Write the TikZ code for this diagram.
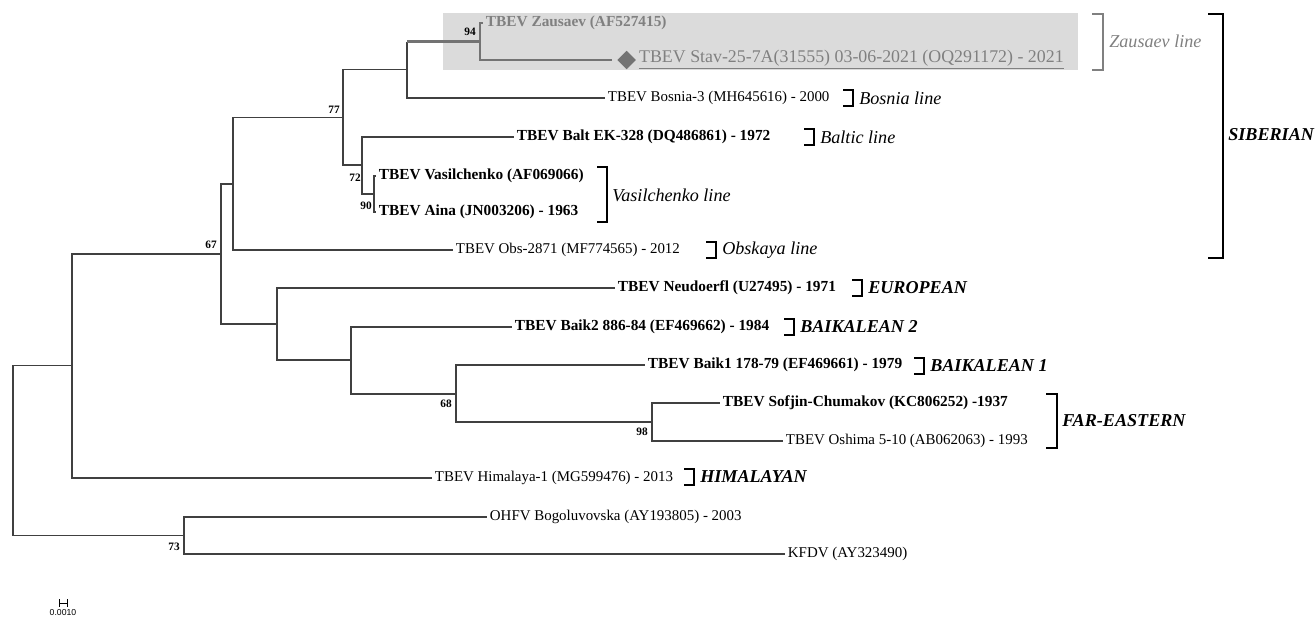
\documentclass[tikz,border=0pt]{standalone}
\usepackage{fontspec}
\setmainfont{Liberation Serif}
\setsansfont{Liberation Sans}
\usetikzlibrary{positioning, shapes.geometric}

\begin{document}
\begin{tikzpicture}[x=0.75pt, y=-0.75pt,
    branch/.style={draw=black!75, line width=0.8pt},
    zbranch/.style={draw=black!55, line width=1.8pt},
    leaf/.style={anchor=west, inner xsep=2pt, inner ysep=1pt, font=\fontsize{11.2}{13}\selectfont},
    bleaf/.style={leaf, font=\fontsize{11.5}{13}\selectfont\bfseries},
    boot/.style={inner sep=0pt, font=\fontsize{8.5}{9}\selectfont\bfseries},
    clade/.style={draw=black, line width=1.8pt},
    cladelab/.style={anchor=west, inner sep=0pt, font=\fontsize{13.6}{15}\selectfont\itshape},
    grouplab/.style={cladelab, font=\fontsize{13.6}{15}\selectfont\bfseries\itshape}]
    \useasboundingbox (0,0) rectangle (1316,618);
    % highlighted clade
    \fill[black!14] (443,13) rectangle (1078,70);

    % internal nodes
    \coordinate (root) at (13,451);
    \coordinate (nA) at (72,365.5);
    \coordinate (n67) at (221,254);
    \coordinate (nSib) at (233,184);
    \coordinate (n77) at (343,117.5);
    \coordinate (nC) at (407,69.5);
    \coordinate (n94) at (480,41.5);
    \coordinate (n72) at (362,165);
    \coordinate (n90) at (374,194);
    \coordinate (nB) at (277,324);
    \coordinate (nD) at (351,360);
    \coordinate (nE) at (456,394);
    \coordinate (n98) at (652,422);
    \coordinate (n73) at (184,535.5);

    % leaves
    \node[bleaf, text=black!50] (zausaev) at (483,23) {TBEV Zausaev (AF527415)};
    \node[diamond, fill=black!55, inner sep=0pt, minimum size=14pt, anchor=west] (dia) at (617,60) {};
    \node[leaf, text=black!50, font=\fontsize{13.4}{15}\selectfont] (stav) at (dia.east)
        {\underline{TBEV Stav-25-7A(31555) 03-06-2021 (OQ291172) - 2021}};
    \node[leaf] (bosnia) at (605,98) {TBEV Bosnia-3 (MH645616) - 2000};
    \node[bleaf] (balt) at (514,137) {TBEV Balt EK-328 (DQ486861) - 1972};
    \node[bleaf] (vasil) at (376,176) {TBEV Vasilchenko (AF069066)};
    \node[bleaf] (aina) at (376,212) {TBEV Aina (JN003206) - 1963};
    \node[leaf] (obs) at (453,250) {TBEV Obs-2871 (MF774565) - 2012};
    \node[bleaf] (neud) at (615,288) {TBEV Neudoerfl (U27495) - 1971};
    \node[bleaf] (baik2) at (512,327) {TBEV Baik2 886-84 (EF469662) - 1984};
    \node[bleaf] (baik1) at (645,365) {TBEV Baik1 178-79 (EF469661) - 1979};
    \node[bleaf] (sofjin) at (720,403) {TBEV Sofjin-Chumakov (KC806252) -1937};
    \node[leaf] (oshima) at (783,441) {TBEV Oshima 5-10 (AB062063) - 1993};
    \node[leaf] (himal) at (432,478) {TBEV Himalaya-1 (MG599476) - 2013};
    \node[leaf] (ohfv) at (487,517) {OHFV Bogoluvovska (AY193805) - 2003};
    \node[leaf] (kfdv) at (785,554) {KFDV (AY323490)};

    % branches
    \draw[branch] (root) |- (nA);
    \draw[branch] (root) |- (n73);
    \draw[branch] (nA) |- (n67);
    \draw[branch] (nA) |- (himal.west);
    \draw[branch] (n67) |- (nSib);
    \draw[branch] (n67) |- (nB);
    \draw[branch] (nSib) |- (n77);
    \draw[branch] (nSib) |- (obs.west);
    \draw[branch] (n77) |- (nC);
    \draw[branch] (n77) |- (n72);
    \draw[branch] (nC) -- (nC |- n94);
    \draw[branch] (nC) |- (bosnia.west);
    \draw[zbranch] (nC |- n94) -- (n94);
    \draw[zbranch] (n94) |- (zausaev.west);
    \draw[zbranch, shorten >=3.5pt] (n94) |- (dia.west);
    \draw[branch] (n72) |- (balt.west);
    \draw[branch] (n72) |- (n90);
    \draw[branch] (n90) |- (vasil.west);
    \draw[branch] (n90) |- (aina.west);
    \draw[branch] (nB) |- (neud.west);
    \draw[branch] (nB) |- (nD);
    \draw[branch] (nD) |- (baik2.west);
    \draw[branch] (nD) |- (nE);
    \draw[branch] (nE) |- (baik1.west);
    \draw[branch] (nE) |- (n98);
    \draw[branch] (n98) |- (sofjin.west);
    \draw[branch] (n98) |- (oshima.west);
    \draw[branch] (n73) |- (ohfv.west);
    \draw[branch] (n73) |- (kfdv.west);

    % bootstrap values
    \node[boot] (b94) at (470,32) {94};
    \node[boot] (b77) at (334,110) {77};
    \node[boot] (b72) at (355,178) {72};
    \node[boot] (b90) at (366,206) {90};
    \node[boot] (b67) at (211,245) {67};
    \node[boot] (b68) at (446,404) {68};
    \node[boot] (b98) at (642,432) {98};
    \node[boot] (b73) at (174,547) {73};

    % lineages
    \foreach \bx/\by/\txt [count=\i] in {853/98/Bosnia line, 814/137/Baltic line, 716/250/Obskaya line} {
        \draw[clade] (\bx-10,\by-8) -| (\bx,\by+8) -- (\bx-10,\by+8);
        \node[cladelab] (line\i) at (\bx+6,\by) {\txt};
    }
    \draw[clade] (597,167) -| (607,222) -- (597,222);
    \node[cladelab] (vline) at (612,195) {Vasilchenko line};
    \draw[clade, draw=black!50, line width=1.5pt] (1092,14) -| (1103,70) -- (1092,70);
    \node[cladelab, text=black!50] (zline) at (1109,41) {Zausaev line};

    % subtypes
    \foreach \bx/\by/\txt [count=\i] in {862/288/EUROPEAN, 794/327/BAIKALEAN 2, 924/366/BAIKALEAN 1, 694/477/HIMALAYAN} {
        \draw[clade] (\bx-10,\by-8) -| (\bx,\by+8) -- (\bx-10,\by+8);
        \node[grouplab] (grp\i) at (\bx+6,\by) {\txt};
    }
    \draw[clade] (1046,394) -| (1057,448) -- (1046,448);
    \node[grouplab] (fareast) at (1062,421) {FAR-EASTERN};
    \draw[clade] (1208,14) -| (1223,258) -- (1208,258);
    \node[grouplab] (siber) at (1228,135) {SIBERIAN};

    % scale bar
    \draw[line width=0.6pt] (59,603) -- (67,603);
    \draw[line width=0.6pt] (59,599) -- (59,607);
    \draw[line width=0.6pt] (67,599) -- (67,607);
    \node[font=\sffamily\fontsize{6.5}{7}\selectfont, inner sep=0pt] (scale) at (63,613) {0.0010};
\end{tikzpicture}
\end{document}
